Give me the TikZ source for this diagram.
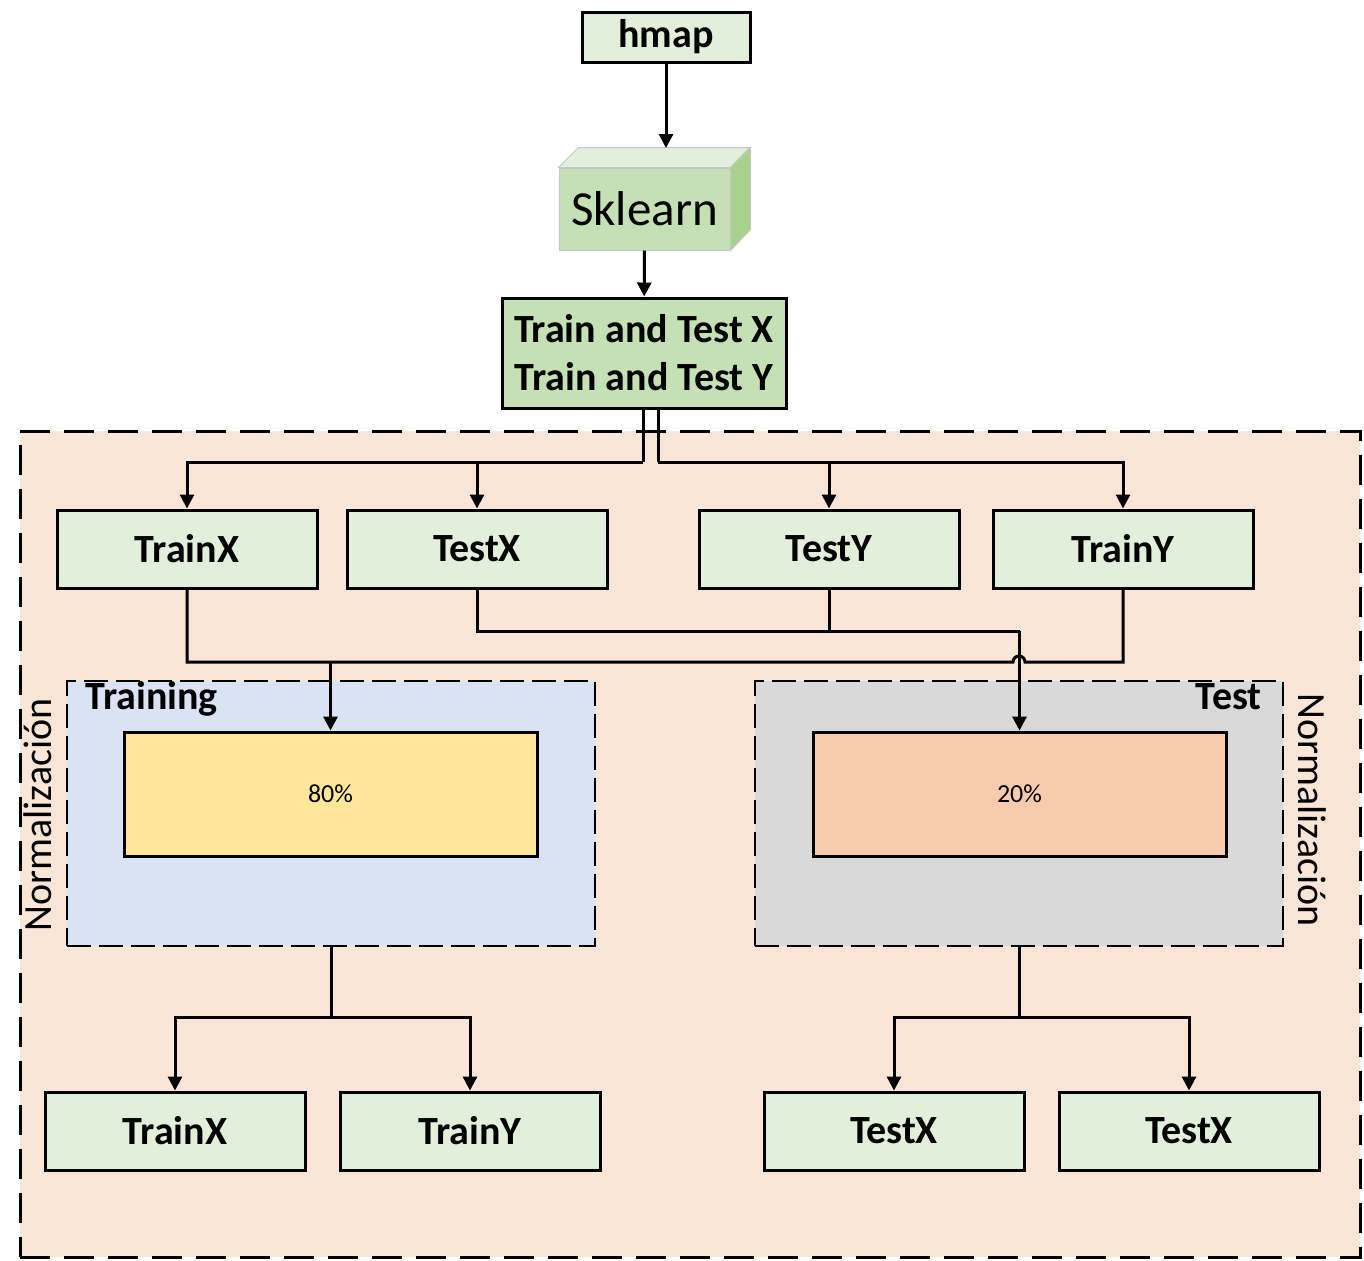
\documentclass[tikz,border=0pt]{standalone}
\usepackage{fontspec}
\setmainfont{Carlito}
\usetikzlibrary{arrows.meta,positioning}
\definecolor{verdeclaro}{HTML}{E2EFDA}
\definecolor{verde}{HTML}{C5E0B4}
\definecolor{verdeosc}{HTML}{A9D18E}
\definecolor{naranjaclaro}{HTML}{FBE5D6}
\definecolor{azulclaro}{HTML}{DAE3F3}
\definecolor{gris}{HTML}{D9D9D9}
\definecolor{amarillo}{HTML}{FFE699}
\definecolor{salmon}{HTML}{F8CBAD}
\begin{document}
\begin{tikzpicture}[x=0.5pt,y=-0.5pt,
	flecha/.style={-{Triangle[length=7pt,width=7pt]},line width=1.5pt},
	linea/.style={line width=1.5pt},
	caja/.style={draw,line width=1.5pt,fill=verdeclaro,minimum width=130pt,minimum height=39pt,inner sep=0pt,font=\fontsize{20}{24}\selectfont\bfseries},
	zona/.style={draw,line width=1pt,dash pattern=on 12pt off 4pt,minimum width=264pt,minimum height=132.5pt,inner sep=0pt},
	porcentaje/.style={draw,line width=1.5pt,minimum width=206.5pt,minimum height=62pt,inner sep=0pt,font=\fontsize{13}{15}\selectfont},
	cubo/.style={draw=gray!45,line width=0.5pt}]
	\useasboundingbox (0,0) rectangle (1364,1260);
	% fondo de normalizacion
	\node[draw,line width=1.5pt,dash pattern=on 15pt off 7pt,fill=naranjaclaro,minimum width=670pt,minimum height=413pt,inner sep=0pt] (norm) at (690,844) {};
	\node[rotate=90,font=\fontsize{20}{24}\selectfont] (normI) at (38,815) {Normalización};
	\node[rotate=-90,font=\fontsize{20}{24}\selectfont] (normD) at (1312,810) {Normalización};
	% entrada
	\node[caja,minimum width=84pt,minimum height=25pt] (hmap) at (666,37) {hmap};
	\node[cubo,fill=verde,minimum width=85.5pt,minimum height=41pt,inner sep=0pt,font=\fontsize{24.5}{28}\selectfont] (sk) at (644.5,209) {Sklearn};
	\draw[cubo,fill=verdeclaro] (sk.north west) -- ++(20,-20) -- ++(171,0) -- (sk.north east) -- cycle;
	\draw[cubo,fill=verdeosc] (sk.north east) -- ++(20,-20) -- ++(0,82) -- (sk.south east) -- cycle;
	\coordinate (sktop) at (665,148);
	\node[caja,fill=verde,minimum width=142pt,minimum height=55pt,align=center] (tt) at (644,353) {Train and Test X\\Train and Test Y};
	\draw[flecha] (hmap.south) -- (hmap.south |- sktop);
	\draw[flecha] (sk) -- (tt);
	% zonas
	\node[zona,fill=azulclaro] (entr) at (331,813.5) {};
	\node[zona,fill=gris] (prueba) at (1019,813.5) {};
	\node[anchor=base west,font=\fontsize{20}{24}\selectfont\bfseries,inner sep=0pt] (lblE) at (85,709) {Training};
	\node[anchor=base east,font=\fontsize{20}{24}\selectfont\bfseries,inner sep=0pt] (lblP) at (1262,709) {Test};
	\node[porcentaje,fill=amarillo] (p80) at (330.5,794) {80\%};
	\node[porcentaje,fill=salmon] (p20) at (1019.5,794) {20\%};
	% cajas
	\node[caja] (trx1) at (187,549) {TrainX};
	\node[caja] (tsx1) at (477,549) {TestX};
	\node[caja] (tsy1) at (829,549) {TestY};
	\node[caja] (try1) at (1123,549) {TrainY};
	\node[caja] (trx2) at (175,1131) {TrainX};
	\node[caja] (try2) at (470,1131) {TrainY};
	\node[caja] (tsx2) at (894,1131) {TestX};
	\node[caja] (tsx3) at (1189,1131) {TestX};
	% conexiones
	\coordinate (ramaI) at (643,462);
	\coordinate (ramaD) at (658,462);
	\coordinate (lineaA) at (0,662);
	\coordinate (lineaB) at (0,631);
	\coordinate (lineaC) at (0,1017);
	\coordinate (saltoI) at (1013,662);
	\draw[linea] (tt.south -| ramaI) -- (ramaI);
	\draw[linea] (tt.south -| ramaD) -- (ramaD);
	\draw[flecha] (ramaI) -| (trx1);
	\draw[flecha] (tsx1 |- ramaI) -- (tsx1);
	\draw[flecha] (ramaD) -| (try1);
	\draw[flecha] (tsy1 |- ramaD) -- (tsy1);
	\draw[linea] (trx1) |- (saltoI) arc[start angle=180,end angle=360,radius=6] -- (lineaA -| try1) -- (try1);
	\draw[flecha] (lineaA -| p80) -- (p80);
	\draw[linea] (tsx1) |- (lineaB -| p20);
	\draw[linea] (tsy1) -- (tsy1 |- lineaB);
	\draw[flecha] (lineaB -| p20) -- (p20);
	\draw[linea] (entr) -- (entr |- lineaC);
	\draw[flecha] (entr |- lineaC) -| (trx2);
	\draw[flecha] (entr |- lineaC) -| (try2);
	\draw[linea] (prueba) -- (prueba |- lineaC);
	\draw[flecha] (prueba |- lineaC) -| (tsx2);
	\draw[flecha] (prueba |- lineaC) -| (tsx3);
\end{tikzpicture}
\end{document}
